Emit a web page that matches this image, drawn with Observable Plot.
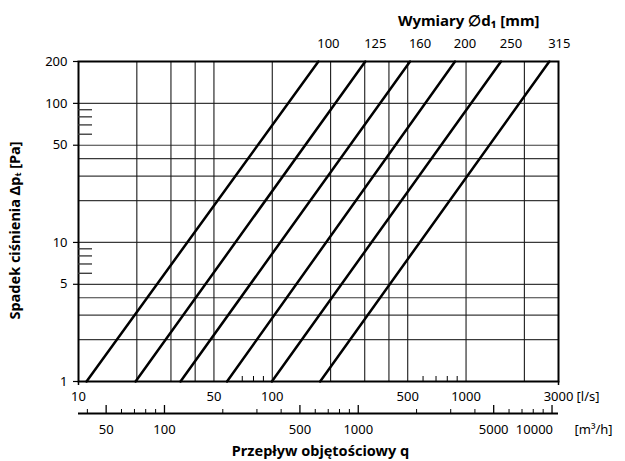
<!DOCTYPE html>
<html><head><meta charset="utf-8">
<script src="https://cdn.jsdelivr.net/npm/d3@7"></script>
<script src="https://cdn.jsdelivr.net/npm/@observablehq/plot@0.6"></script>
<style>html,body{margin:0;padding:0;background:#fff}</style>
</head><body><div id="chart"></div>
<script>
// ---- data ----
const diameters = ["100", "125", "160", "200", "250", "315"];
const pressureEnds = [1, 200];                       // Pa at the two ends of each line
const flowAt1Pa = [11.0, 19.7, 33.6, 58.4, 99.5, 176.6];   // l/s
const flowAt200Pa = [173, 302, 514, 877, 1515, 2690];      // l/s
const flowDomain = [10, 3000];
const pressureDomain = [1, 200];
const flowGrid = [20, 30, 40, 50, 100, 200, 300, 400, 500, 1000, 2000];
const pressureGrid = [2, 3, 4, 5, 10, 20, 30, 40, 50, 100];
const flowTickLabels = [10, 50, 100, 500, 1000, 3000];
const flowEndTicks = [10, 3000];
const flowMinorTicks = [70, 80, 90, 600, 700, 800, 900];
const pressureTickLabels = [1, 5, 10, 50, 100, 200];
const pressureMinorTicks = [6, 7, 8, 9, 60, 70, 80, 90];
const m3hLabels = [50, 100, 500, 1000, 5000];
const m3hLastLabel = [10000];
const m3hMajor = [50, 100, 500, 1000, 5000, 10000];
const m3hMinor = [40, 60, 70, 80, 90, 200, 300, 400, 600, 700, 800, 900, 2000, 3000, 4000, 6000, 7000, 8000, 9000];
const m3hPerLs = 3.6;

const lineData = diameters.flatMap((d, i) => [
  {d, q: flowAt1Pa[i], p: pressureEnds[0]},
  {d, q: flowAt200Pa[i], p: pressureEnds[1]}
]);
const toLs = (m) => m / m3hPerLs;
const blank = () => "";
const id = (d) => d;

const chart = Plot.plot({
  width: 625,
  height: 461,
  marginLeft: 78,
  marginRight: 67,
  marginTop: 61,
  marginBottom: 80,
  style: {fontFamily: "'Noto Sans', sans-serif", fontSize: "13px", background: "#fff", color: "#000"},
  x: {type: "log", domain: flowDomain},
  y: {type: "log", domain: pressureDomain},
  marks: [
    Plot.ruleY(pressureGrid, {stroke: "#3a3a3a", strokeWidth: 1.2}),
    Plot.ruleX(flowGrid, {stroke: "#1a1a1a", strokeWidth: 1.1}),
    Plot.frame({stroke: "#000", strokeWidth: 2}),
    Plot.line(lineData, {x: "q", y: "p", z: "d", stroke: "#000", strokeWidth: 2.5}),
    Plot.text(diameters, {x: (d, i) => flowAt200Pa[i], y: () => pressureEnds[1], text: (d) => d, dx: 10, dy: -18, fontSize: 13}),
    // y axis
    Plot.axisY(pressureTickLabels, {tickSize: 5, label: null, tickFormat: blank, strokeWidth: 1.2}),
    Plot.text(pressureTickLabels, {y: id, frameAnchor: "left", textAnchor: "end", lineAnchor: "middle", dx: -11, text: (d) => String(d)}),
    Plot.axisY(pressureMinorTicks, {tickSize: -14, label: null, tickFormat: blank, stroke: "#333", strokeWidth: 1.3}),
    // l/s axis
    Plot.text(flowTickLabels, {x: id, frameAnchor: "bottom", textAnchor: "middle", lineAnchor: "middle", dy: 15, text: (d) => String(d)}),
    Plot.axisX(flowEndTicks, {tickSize: 4, label: null, tickFormat: blank, strokeWidth: 1.5}),
    Plot.axisX(flowMinorTicks, {tickSize: -5, label: null, tickFormat: blank}),
    Plot.text(["[l/s]"], {frameAnchor: "bottom-right", textAnchor: "start", lineAnchor: "middle", dx: 18, dy: 15}),
    // m3/h axis
    Plot.ruleY([pressureDomain[0]], {dy: 32, stroke: "#000", strokeWidth: 1.8}),
    Plot.axisX(m3hMajor.map(toLs), {tickSize: -8, dy: 32, label: null, tickFormat: blank, strokeWidth: 1.3}),
    Plot.axisX(m3hMinor.map(toLs), {tickSize: -4, dy: 32, label: null, tickFormat: blank}),
    Plot.text(m3hLabels, {x: toLs, frameAnchor: "bottom", textAnchor: "middle", lineAnchor: "middle", dy: 48, text: (d) => String(d)}),
    Plot.text(m3hLastLabel, {x: toLs, frameAnchor: "bottom", textAnchor: "end", lineAnchor: "middle", dx: 1, dy: 48, text: (d) => String(d)}),
    Plot.text(["[m³/h]"], {frameAnchor: "bottom-right", textAnchor: "start", lineAnchor: "middle", dx: 16, dy: 48}),
    // titles
    Plot.text(["Przepływ objętościowy q"], {frameAnchor: "bottom", textAnchor: "middle", lineAnchor: "middle", dx: 2, dy: 70, fontWeight: "bold", fontSize: 14.5}),
    Plot.text(["Wymiary ∅d₁ [mm]"], {frameAnchor: "top-right", textAnchor: "end", lineAnchor: "middle", dx: -19, dy: -40, fontWeight: "bold", fontSize: 15}),
    Plot.text(["Spadek ciśnienia Δpₜ [Pa]"], {frameAnchor: "left", textAnchor: "middle", lineAnchor: "middle", rotate: -90, dx: -63, dy: 9, fontWeight: "bold", fontSize: 14.5})
  ]
});
document.getElementById("chart").append(chart);
</script>
</body></html>
